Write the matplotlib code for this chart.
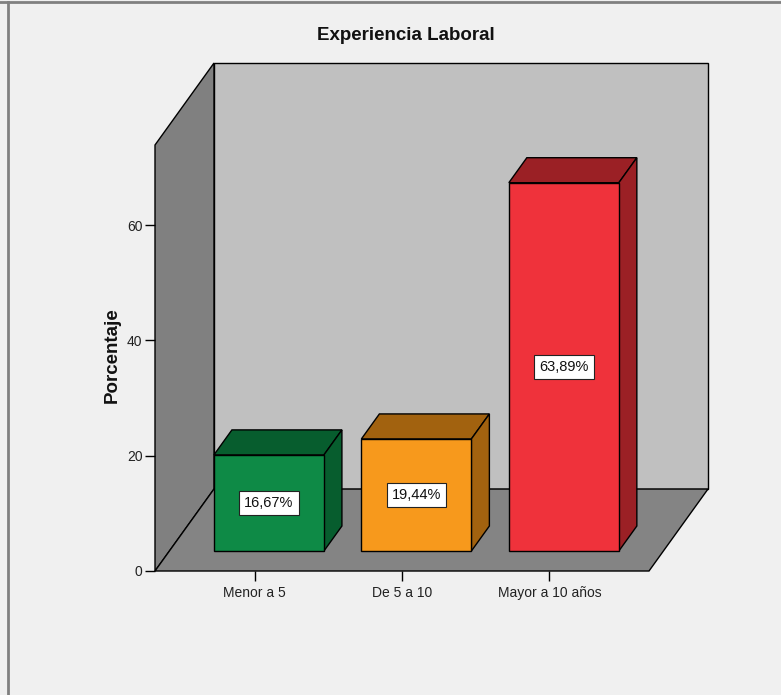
import matplotlib.pyplot as plt
from matplotlib.patches import Polygon
from matplotlib.lines import Line2D

plt.rcParams['font.family'] = ['Liberation Sans', 'DejaVu Sans']

categorias = ['Menor a 5', 'De 5 a 10', 'Mayor a 10 años']
porcentajes = [16.67, 19.44, 63.89]
etiquetas = ['16,67%', '19,44%', '63,89%']
colores_frente = ['#0e8a46', '#f7991c', '#ef323b']
colores_lado = ['#075d2e', '#a2620f', '#9b2025']
yticks = [0, 20, 40, 60]

# 3d look: depth shift of the box in data units
DX, DY = 0.4, 14.22
f0, f1 = 0.244, 0.549   # front / back of bars as a fraction of depth
ancho = 0.746
xmin, xmax = -0.675, 2.675
ymax = 73.9

fig = plt.figure(figsize=(7.81, 6.95), dpi=100)
fig.patch.set_facecolor('#f0f0f0')
ax = fig.add_axes([155/781, 1 - 571/695, 494/781, 426/695])
ax.set_facecolor('none')
ax.set_xlim(xmin, xmax)
ax.set_ylim(0, ymax)

kw = dict(edgecolor='black', linewidth=1, clip_on=False, joinstyle='miter')
# back wall, left wall, floor
ax.add_patch(Polygon([(xmin+DX, DY), (xmax+DX, DY), (xmax+DX, ymax+DY), (xmin+DX, ymax+DY)],
                     facecolor='#c0c0c0', **kw))
ax.add_patch(Polygon([(xmin, 0), (xmin+DX, DY), (xmin+DX, ymax+DY), (xmin, ymax)],
                     facecolor='#808080', **kw))
ax.add_patch(Polygon([(xmin, 0), (xmax, 0), (xmax+DX, DY), (xmin+DX, DY)],
                     facecolor='#848484', **kw))

for i, v in enumerate(porcentajes):
    x0 = i - ancho/2 + f0*DX
    x1 = i + ancho/2 + f0*DX
    y0 = f0*DY
    y1 = y0 + v
    ddx = (f1 - f0)*DX
    ddy = (f1 - f0)*DY
    ax.add_patch(Polygon([(x0, y1), (x1, y1), (x1+ddx, y1+ddy), (x0+ddx, y1+ddy)],
                         facecolor=colores_lado[i], **kw))
    ax.add_patch(Polygon([(x1, y0), (x1+ddx, y0+ddy), (x1+ddx, y1+ddy), (x1, y1)],
                         facecolor=colores_lado[i], **kw))
    ax.add_patch(Polygon([(x0, y0), (x1, y0), (x1, y1), (x0, y1)],
                         facecolor=colores_frente[i], **kw))
    ax.text((x0+x1)/2, (y0+y1)/2, etiquetas[i], ha='center', va='center', fontsize=10.5,
            color='#111111',
            bbox=dict(boxstyle='square,pad=0.35', facecolor='white', edgecolor='#222222', linewidth=0.8))

ax.set_xticks(range(len(categorias)))
ax.set_xticklabels(categorias, fontsize=10, color='#222222')
ax.set_yticks(yticks)
ax.set_yticklabels([str(t) for t in yticks], fontsize=10, color='#222222')
ax.tick_params(direction='out', length=7, width=1, color='black', pad=2)
ax.tick_params(axis='x', pad=12)
for lbl in ax.get_xticklabels():
    lbl.set_verticalalignment('baseline')
for s in ['top', 'right', 'left', 'bottom']:
    ax.spines[s].set_visible(False)

fig.text(406/781, 1 - 35/695, 'Experiencia Laboral', ha='center', va='center',
         fontsize=13.5, fontweight='bold', color='#111111')
fig.text(112/781, 1 - 355/695, 'Porcentaje', ha='center', va='center', rotation=90,
         fontsize=13.5, fontweight='bold', color='#111111')

# outer frame
fig.add_artist(Line2D([0, 1], [1 - 2/695, 1 - 2/695], color='#808080', linewidth=2,
                      transform=fig.transFigure))
fig.add_artist(Line2D([8/781, 8/781], [0, 1 - 2/695], color='#808080', linewidth=2,
                      transform=fig.transFigure))

fig.savefig('out.png', dpi=100, facecolor=fig.get_facecolor())
